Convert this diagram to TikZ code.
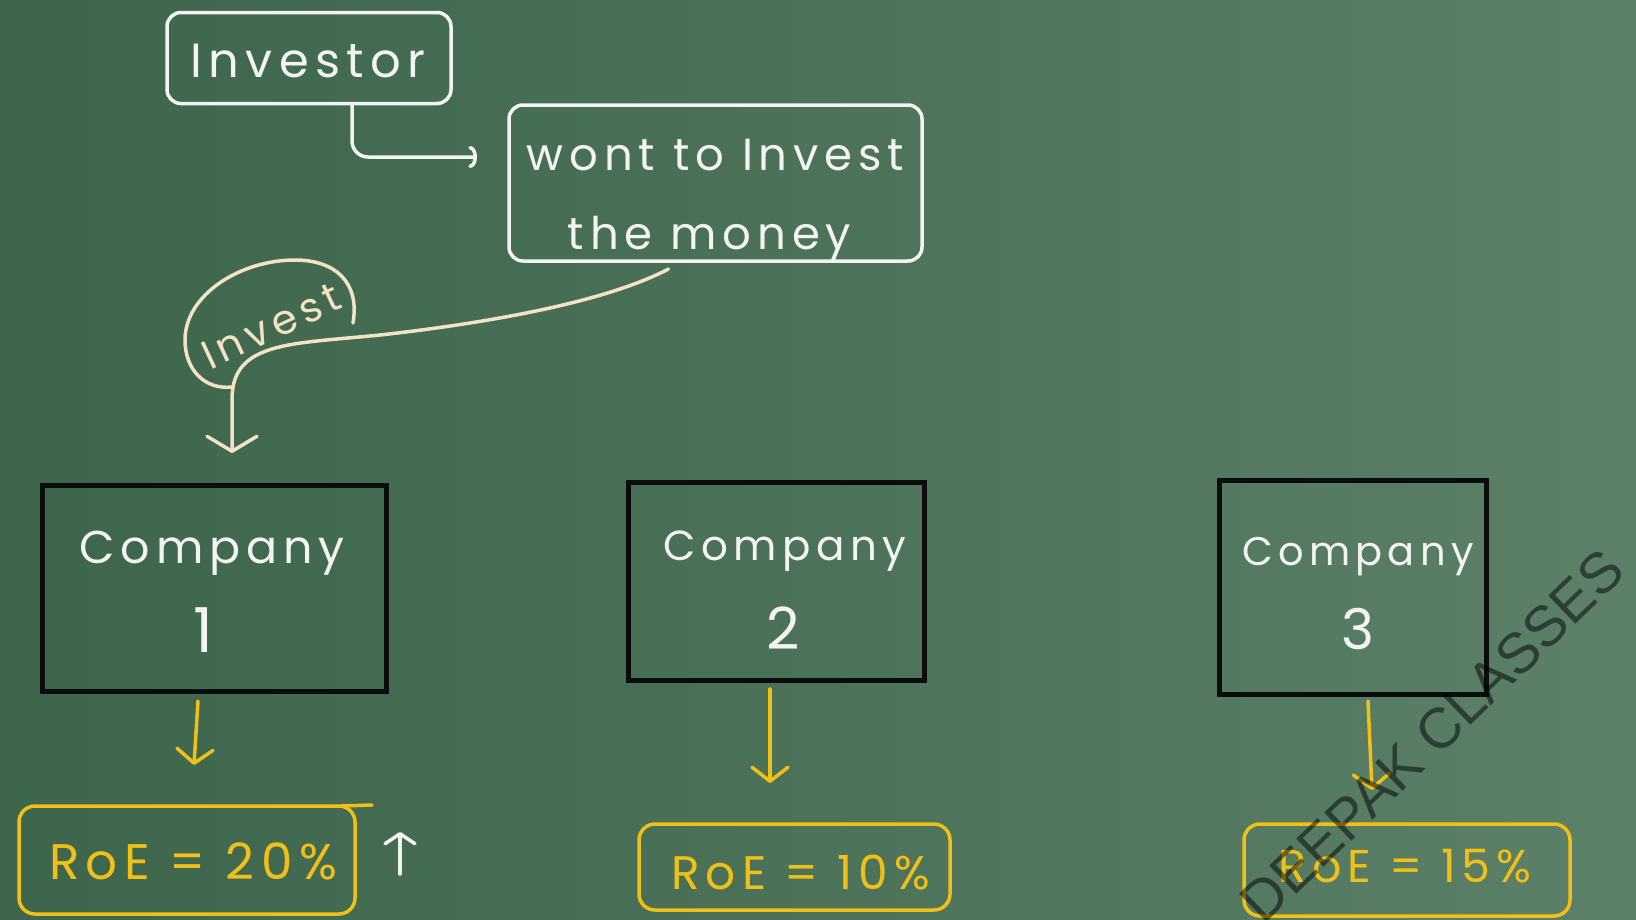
\documentclass[tikz,border=0pt]{standalone}
\usepackage{fontspec}
\setmainfont{Poppins}
\newfontfamily\hand[LetterSpace=13]{Poppins}
\newfontfamily\markfont{Liberation Sans}
\usetikzlibrary{arrows.meta}

\definecolor{boardL}{RGB}{60,101,75}
\definecolor{boardR}{RGB}{92,128,104}
\definecolor{chalk}{RGB}{244,244,238}
\definecolor{cream}{RGB}{243,226,196}
\definecolor{marker}{RGB}{241,192,24}
\definecolor{ink}{RGB}{12,12,12}

\newcommand\handsz[1]{\hand\fontsize{#1}{#1}\selectfont}

\tikzset{
  chalkline/.style={draw=chalk, line width=3.5pt, line cap=round, line join=round},
  creamline/.style={draw=cream, line width=3.5pt, line cap=round, line join=round},
  chalkbox/.style={chalkline, rounded corners=14pt, inner sep=0pt, outer sep=0pt},
  companybox/.style={draw=ink, line width=5pt, inner sep=0pt, outer sep=0pt},
  boardtext/.style={text=chalk, inner sep=0pt, anchor=base},
  roebox/.style={draw=marker, line width=3.5pt, rounded corners=16pt, inner sep=0pt, outer sep=0pt},
  roetext/.style={text=marker, inner sep=0pt, anchor=base},
  yarrow/.style={draw=marker, line width=3.5pt, line cap=round,
    -{Straight Barb[length=14pt,width=36pt,round]}},
}

\begin{document}
\begin{tikzpicture}[x=1pt,y=-1pt]
\useasboundingbox (0,0) rectangle (1636,919);
\shade[left color=boardL, right color=boardR] (0,0) rectangle (1636,919);

% top row: the investor and the intention
\node[chalkbox, minimum width=284pt, minimum height=91pt] (inv) at (309,58) {};
\node[boardtext, font=\handsz{48}] (invtxt) at ([xshift=-1pt,yshift=-65pt]inv.north) {Investor};
\node[chalkbox, minimum width=413pt, minimum height=156pt] (want) at (715.5,183) {};
\node[boardtext, font=\handsz{45}] (want1) at ([yshift=-65pt]want.north) {wont to Invest};
\node[boardtext, font=\handsz{45}] (want2) at ([xshift=-6pt,yshift=-144pt]want.north) {the money};

% the three companies
\node[companybox, minimum width=344pt, minimum height=206pt] (c1) at (214,588) {};
\node[companybox, minimum width=296pt, minimum height=198pt] (c2) at (776,581) {};
\node[companybox, minimum width=267pt, minimum height=214pt] (c3) at (1352.5,587) {};

\node[boardtext, font=\handsz{46}] (c1name) at ([xshift=-2pt,yshift=-78pt]c1.north) {Company};
\node[boardtext, font=\handsz{62}] (c1num) at ([xshift=-11pt,yshift=-167pt]c1.north) {1};
\node[boardtext, font=\handsz{42}] (c2name) at ([xshift=9pt,yshift=-78pt]c2.north) {Company};
\node[boardtext, font=\handsz{58}] (c2num) at ([xshift=7pt,yshift=-167pt]c2.north) {2};
\node[boardtext, font=\handsz{40}] (c3name) at ([xshift=5.5pt,yshift=-85pt]c3.north) {Company};
\node[boardtext, font=\handsz{56}] (c3num) at ([xshift=5.5pt,yshift=-169pt]c3.north) {3};

% returns on equity
\node[roebox, minimum width=336pt, minimum height=108pt] (r1) at (187,860) {};
\node[roebox, minimum width=311pt, minimum height=86pt] (r2) at (794.5,867) {};
\node[roebox, minimum width=326pt, minimum height=92pt] (r3) at (1407,870) {};
\node[roetext, font=\handsz{50}] (r1txt) at ([xshift=6pt,yshift=-73pt]r1.north) {RoE = 20\%};
\node[roetext, font=\handsz{47}] (r2txt) at ([xshift=6pt,yshift=-65pt]r2.north) {RoE = 10\%};
\node[roetext, font=\handsz{46}] (r3txt) at ([xshift=-2pt,yshift=-58pt]r3.north) {RoE = 15\%};
\draw[marker, line width=3.5pt, line cap=round] ([xshift=-14pt]r1.north east) -- ++(31,-1);

% investor -> intention
\draw[chalkline, rounded corners=16pt, -{Arc Barb[length=7pt,width=22pt,round]}]
  ([xshift=43pt]inv.south) |- ([xshift=-32pt,yshift=26pt]want.west);

% intention -> company 1, with the "Invest" bubble
\draw[creamline, -{Straight Barb[length=15pt,width=50pt,round]}]
  ([xshift=-47pt,yshift=-8pt]want.south)
  .. controls (600,305) and (470,325) .. (380,335)
  .. controls (320,341) and (280,342) .. (255,356)
  .. controls (238,366) and (232,380) .. (232,400)
  -- ([xshift=18pt,yshift=32pt]c1.north);
\draw[creamline] (232,387) .. controls (205,390) and (185,370) .. (185,340)
  .. controls (185,295) and (240,260) .. (295,260)
  .. controls (335,260) and (360,282) .. (353,323);
\node[text=cream, inner sep=0pt, rotate=25, font=\handsz{41}] (investlbl) at (271,326) {Invest};

% companies -> returns
\draw[yarrow] ([xshift=-16pt,yshift=-10pt]c1.south) -- ([xshift=7pt,yshift=41pt]r1.north);
\draw[yarrow] ([xshift=-6pt,yshift=-9pt]c2.south) -- ([xshift=-24.5pt,yshift=41pt]r2.north);
\draw[yarrow] ([xshift=15.5pt,yshift=-7pt]c3.south) -- ([xshift=-35pt,yshift=34pt]r3.north);

% "higher" mark beside the first return
\draw[chalkline, -{Straight Barb[length=10pt,width=30pt,round]}]
  ([xshift=45pt,yshift=-14pt]r1.east) -- ([xshift=45pt,yshift=28pt]r1.east);

% watermark
\node[rotate=44, text=black, text opacity=0.5, inner sep=0pt,
  font={\markfont\fontsize{57}{57}\selectfont}] (mark) at (1432,736) {DEEPAK CLASSES};
\end{tikzpicture}
\end{document}
